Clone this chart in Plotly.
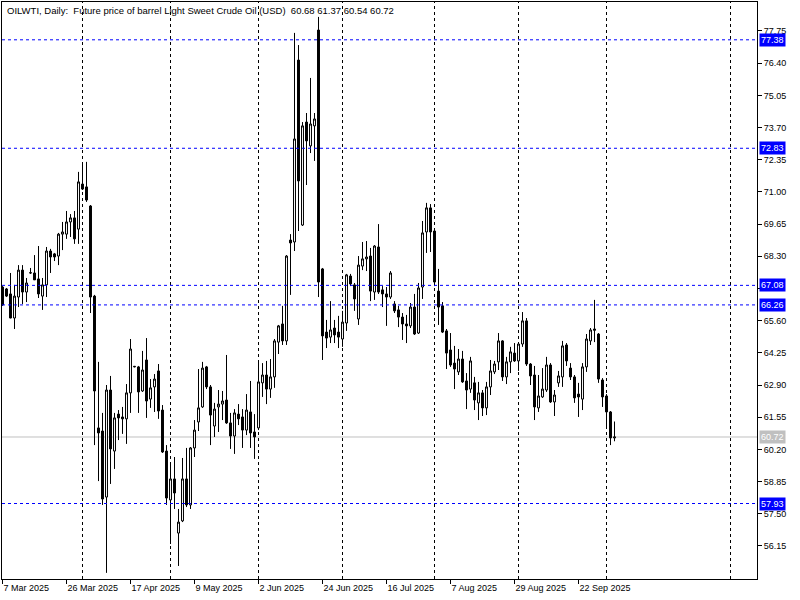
import plotly.graph_objects as go

BLUE = "#0000FF"
GREY = "#C0C0C0"
BLACK = "#000000"
FONT = "Liberation Sans"

# daily OHLC, OILWTI (bar index 0 .. 153)
opens = [
    67.01, 66.93, 66.72, 65.71, 66.59, 67.72, 66.80, 67.60, 67.60, 67.35,
    66.63, 67.10, 68.52, 68.40, 68.31, 69.23, 69.23, 69.74, 69.91, 69.44,
    71.33, 71.21, 70.41, 66.63, 61.10, 60.97, 58.20, 62.69, 60.13, 61.68,
    61.56, 61.48, 62.57, 63.66, 63.66, 62.65, 63.95, 62.31, 62.82, 63.49,
    61.85, 60.13, 58.08, 58.96, 56.69, 57.20, 58.96, 57.87, 60.26, 61.35,
    61.98, 63.66, 62.82, 61.18, 61.98, 62.10, 62.27, 61.31, 60.76, 61.68,
    61.56, 61.01, 61.77, 60.93, 61.10, 62.99, 63.32, 62.73, 63.24, 64.70,
    65.46, 64.75, 68.98, 68.90, 76.53, 69.61, 73.93, 72.93, 73.77, 77.79,
    67.77, 65.12, 64.91, 65.29, 65.12, 64.83, 65.50, 67.47, 67.10, 65.67,
    67.89, 68.19, 68.31, 66.80, 68.69, 66.89, 66.72, 66.59, 66.30, 66.05,
    65.75, 65.46, 65.38, 66.17, 65.08, 67.01, 69.32, 70.33, 69.36, 66.84,
    66.22, 65.17, 64.37, 63.82, 63.45, 63.99, 63.07, 62.73, 62.99, 62.15,
    62.57, 61.94, 62.82, 63.45, 63.87, 64.75, 63.24, 63.87, 64.24, 63.91,
    64.62, 65.59, 63.78, 63.32, 61.94, 62.40, 62.69, 63.74, 62.19, 62.99,
    63.24, 64.58, 63.61, 63.24, 62.52, 62.31, 63.66, 64.75, 65.25, 65.04,
    63.11, 62.44, 61.77, 60.68,
]
highs = [
    67.05, 66.97, 67.60, 67.10, 67.93, 67.93, 67.39, 67.81, 68.35, 68.73,
    67.39, 68.69, 68.61, 68.44, 69.28, 69.74, 70.20, 70.07, 70.20, 71.84,
    72.13, 72.26, 70.45, 66.68, 63.87, 61.73, 62.90, 63.28, 61.73, 61.85,
    61.98, 62.94, 64.83, 63.70, 63.70, 64.33, 64.87, 63.15, 63.36, 63.78,
    62.06, 60.38, 59.63, 59.88, 57.70, 59.84, 60.26, 60.30, 61.43, 63.57,
    63.87, 63.70, 62.90, 62.15, 62.69, 62.65, 64.16, 61.73, 61.89, 62.10,
    61.89, 62.52, 63.07, 61.68, 63.87, 63.82, 63.91, 63.99, 64.83, 65.42,
    66.22, 68.35, 69.23, 77.67, 77.16, 73.93, 74.31, 75.78, 74.31, 78.34,
    67.81, 65.63, 66.42, 65.63, 65.80, 66.01, 67.56, 67.56, 67.18, 68.31,
    68.90, 68.94, 68.65, 68.77, 69.65, 67.05, 67.01, 67.68, 66.42, 66.22,
    65.92, 65.84, 66.34, 66.72, 67.18, 69.78, 70.54, 70.49, 69.40, 67.77,
    66.38, 65.25, 65.08, 64.54, 64.41, 64.33, 63.40, 64.08, 63.24, 63.03,
    62.69, 63.03, 63.95, 63.91, 65.08, 64.78, 64.08, 64.50, 64.66, 64.66,
    65.96, 65.71, 63.82, 63.70, 63.32, 63.61, 64.08, 63.82, 62.69, 63.49,
    64.75, 64.66, 63.82, 63.32, 62.99, 63.82, 65.04, 65.29, 66.47, 65.08,
    63.19, 62.52, 61.81, 61.37,
]
lows = [
    66.22, 66.59, 65.70, 65.25, 66.17, 66.30, 66.38, 67.56, 67.31, 66.55,
    66.05, 66.59, 67.60, 68.10, 67.93, 68.56, 69.03, 69.11, 68.82, 68.82,
    71.08, 70.58, 65.92, 60.38, 58.87, 57.87, 55.02, 58.75, 59.38, 60.59,
    60.85, 60.43, 61.73, 63.64, 61.73, 62.61, 61.52, 61.94, 61.77, 61.48,
    60.05, 57.87, 56.23, 57.70, 55.31, 57.15, 57.78, 57.70, 59.88, 60.97,
    61.94, 62.73, 60.38, 60.72, 60.93, 61.43, 61.27, 60.22, 60.01, 61.22,
    60.26, 60.80, 60.26, 59.80, 61.01, 62.40, 62.10, 62.36, 62.78, 64.20,
    64.58, 64.58, 66.68, 68.52, 69.36, 69.57, 71.29, 72.63, 72.30, 66.59,
    63.95, 64.45, 64.66, 64.66, 64.45, 64.50, 65.17, 67.05, 66.01, 65.42,
    67.72, 67.68, 66.42, 66.47, 66.72, 66.17, 65.38, 66.51, 65.92, 65.33,
    64.79, 64.66, 65.29, 65.00, 65.04, 66.51, 68.44, 68.48, 67.05, 65.42,
    65.08, 63.57, 63.66, 62.73, 63.32, 62.99, 61.89, 62.57, 61.85, 61.43,
    61.60, 61.64, 62.48, 63.36, 63.53, 63.07, 62.94, 63.40, 63.87, 63.49,
    64.50, 63.70, 62.90, 61.43, 61.77, 62.36, 62.61, 62.15, 61.60, 62.82,
    62.82, 63.70, 63.11, 62.15, 61.56, 61.85, 63.45, 64.58, 64.70, 62.99,
    61.98, 61.10, 60.38, 60.54,
]
closes = [
    66.26, 66.63, 65.71, 66.63, 67.72, 66.80, 67.18, 67.61, 67.31, 66.72,
    67.10, 68.52, 68.27, 68.27, 69.23, 69.32, 69.74, 69.91, 69.03, 71.42,
    71.12, 70.66, 66.59, 62.65, 60.89, 58.12, 62.69, 60.22, 61.52, 61.52,
    61.48, 62.57, 64.41, 63.68, 62.61, 63.53, 62.23, 62.78, 63.15, 61.81,
    60.09, 58.16, 58.96, 58.37, 57.15, 58.96, 57.87, 60.26, 61.01, 61.94,
    63.61, 62.82, 61.64, 61.89, 62.10, 62.23, 61.31, 60.76, 61.73, 61.48,
    61.01, 61.85, 60.89, 60.72, 63.03, 63.32, 62.73, 63.24, 64.75, 65.38,
    64.75, 68.31, 68.86, 73.22, 71.46, 73.77, 73.14, 73.85, 74.06, 67.22,
    64.96, 64.87, 65.21, 65.00, 64.91, 65.54, 67.52, 67.14, 66.51, 67.93,
    68.19, 68.27, 66.84, 68.73, 66.80, 66.72, 66.59, 67.60, 66.01, 65.75,
    65.46, 65.38, 66.17, 65.04, 66.97, 69.28, 70.33, 69.32, 67.22, 66.17,
    65.12, 64.24, 63.74, 63.57, 63.99, 63.03, 62.69, 63.91, 62.27, 62.57,
    61.94, 62.82, 63.49, 63.78, 64.75, 63.24, 63.87, 64.29, 63.91, 64.62,
    65.59, 63.78, 63.28, 61.98, 62.44, 62.73, 63.74, 62.19, 62.48, 63.28,
    64.54, 63.91, 63.24, 62.36, 62.40, 63.66, 64.83, 65.21, 65.20, 63.15,
    62.40, 61.77, 60.68, 60.72,
]

date_ticks = [0, 16, 32, 48, 64, 80, 96, 112, 128, 144]
date_labels = [
    "7 Mar 2025", "26 Mar 2025", "17 Apr 2025", "9 May 2025", "2 Jun 2025",
    "24 Jun 2025", "16 Jul 2025", "7 Aug 2025", "29 Aug 2025", "22 Sep 2025",
]
grid_bars = [20, 42, 64, 85, 108, 129, 151, 182]

price_ticks = [56.15, 57.50, 58.85, 60.20, 61.55, 62.90, 64.25, 65.60, 66.95,
               68.30, 69.65, 71.00, 72.35, 73.70, 75.05, 76.40, 77.75]
hidden_ticks = [66.95]
levels = [77.38, 72.83, 67.08, 66.26, 57.93]
last_price = 60.72

title = ("OILWTI, Daily:\u00a0\u00a0Future price of barrel Light Sweet Crude Oil (USD)"
         "\u00a0\u00a0{:.2f} {:.2f} {:.2f} {:.2f}").format(
    opens[-1], highs[-1], lows[-1], closes[-1])

bars = list(range(len(opens)))

fig = go.Figure(go.Candlestick(
    x=bars, open=opens, high=highs, low=lows, close=closes,
    increasing=dict(line=dict(color=BLACK, width=1), fillcolor="white"),
    decreasing=dict(line=dict(color=BLACK, width=1), fillcolor=BLACK),
    whiskerwidth=0,
    hoverinfo="skip",
))

# month separators (grid)
for b in grid_bars:
    fig.add_shape(type="line", xref="x", yref="paper", x0=b, x1=b, y0=0, y1=1,
                  line=dict(color=BLACK, width=1, dash="3px,3px"), layer="below")

# horizontal level lines
for lv in levels:
    fig.add_shape(type="line", xref="paper", yref="y", x0=0, x1=1, y0=lv, y1=lv,
                  line=dict(color=BLUE, width=1, dash="3px,3px"), layer="above")
    fig.add_annotation(xref="paper", yref="y", x=1, y=lv, xanchor="left", xshift=2,
                       text=f"{lv:.2f}", showarrow=False, bgcolor=BLUE, borderpad=1,
                       font=dict(family=FONT, size=9, color="white"))

fig.add_shape(type="line", xref="paper", yref="y", x0=0, x1=1,
              y0=last_price, y1=last_price, line=dict(color=GREY, width=1), layer="below")
fig.add_annotation(xref="paper", yref="y", x=1, y=last_price, xanchor="left", xshift=2,
                   text=f"{last_price:.2f}", showarrow=False, bgcolor=GREY, borderpad=1,
                   font=dict(family=FONT, size=9, color="white"))

fig.add_annotation(xref="paper", yref="paper", x=0, y=1, xanchor="left", yanchor="top",
                   xshift=3, yshift=-1, text=title, showarrow=False,
                   font=dict(family=FONT, size=9.5, color=BLACK))

fig.update_layout(
    width=800, height=600,
    margin=dict(l=2, r=43, t=2, b=21),
    paper_bgcolor="white", plot_bgcolor="white",
    showlegend=False,
    font=dict(family=FONT, size=9, color=BLACK),
    xaxis=dict(
        range=[-0.125, 188.625], rangeslider=dict(visible=False),
        showgrid=False, zeroline=False, showline=True, mirror=True,
        linecolor=BLACK, linewidth=1,
        ticks="outside", ticklen=4, tickcolor=BLACK,
        tickvals=date_ticks, ticktext=date_labels,
        ticklabelposition="outside right",
        tickfont=dict(family=FONT, size=9, color=BLACK),
    ),
    yaxis=dict(
        side="right", range=[54.763, 78.966],
        showgrid=False, zeroline=False, showline=True, mirror=True,
        linecolor=BLACK, linewidth=1,
        ticks="outside", ticklen=4, tickcolor=BLACK,
        tickvals=price_ticks,
        ticktext=["" if t in hidden_ticks else f"{t:.2f}" for t in price_ticks],
        tickfont=dict(family=FONT, size=9, color=BLACK),
    ),
)

# page body has an 8px default margin; drop it so the chart fills the window
fig.write_html("out.html", config={"displayModeBar": False},
               post_script="document.body.style.margin='0px';")
